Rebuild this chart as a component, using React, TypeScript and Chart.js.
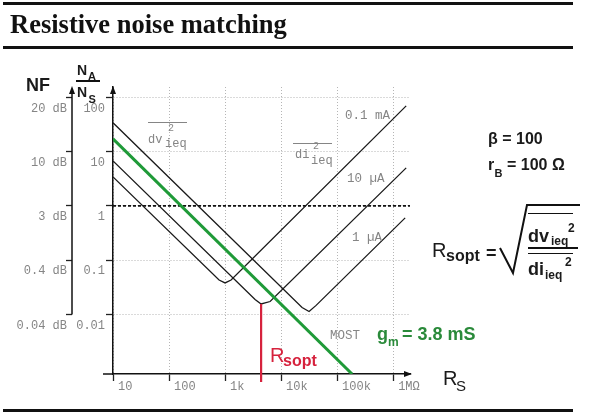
import React, { useEffect, useRef } from "react";
import { Chart, registerables } from "chart.js";

Chart.register(...registerables);

// ---------- data ----------
const X_TICKS = [10, 100, 1000, 1e4, 1e5, 1e6];
const X_TICK_LABELS = ["10", "100", "1k", "10k", "100k", "1MΩ"];
const Y_TICKS = [0.01, 0.1, 1, 10, 100];
const Y_TICK_LABELS = ["0.01", "0.1", "1", "10", "100"];
const NF_TICK_LABELS = ["0.04 dB", "0.4 dB", "3 dB", "10 dB", "20 dB"];
const X_MIN = 10;
const X_MAX = 2e6;
const Y_MIN = 0.0008;
const Y_MAX = 155;

// bipolar, Ic = 0.1 mA
const rs01mA = [10, 782, 1000, 1280, 1.71e6];
const nr01mA = [3.42, 0.0431, 0.0381, 0.0431, 69.7];
// bipolar, Ic = 10 µA
const rs10uA = [10, 3436, 4400, 6368, 1.71e6];
const nr10uA = [6.75, 0.0189, 0.0156, 0.0173, 5.01];
// bipolar, Ic = 1 µA
const rs1uA = [10, 23700, 31600, 42200, 1.64e6];
const nr1uA = [33.9, 0.0134, 0.01135, 0.0147, 0.601];
// MOST, gm = 3.8 mS
const rsMost = [10, 1.85e5];
const nrMost = [17.2, 0.0008];
// optimum source resistance marker
const RS_OPT = 4400;
const NR_OPT_BOTTOM = 0.00057;
// 3 dB reference line
const NR_3DB = 1;

// ---------- styles ----------
const SANS = '"Liberation Sans", Arial, sans-serif';
const SERIF = '"Liberation Serif", "Times New Roman", serif';
const MONO = '"Liberation Mono", "Courier New", monospace';
const BLACK = "#1a1a1a";
const GREEN = "#1f9a38";
const GREEN_TXT = "#2a8a3a";
const RED = "#d6223d";
const GRAY = "#858585";
const GRID = "#b5b5b5";

const ASC: Record<string, number> = { [SANS]: 0.8465, [SERIF]: 0.8375, [MONO]: 0.7665 };

function T(props: {
  x: number;
  base: number;
  size: number;
  bold?: boolean;
  fam?: string;
  color?: string;
  children: React.ReactNode;
}) {
  const fam = props.fam || SANS;
  return (
    <span
      style={{
        position: "absolute",
        left: props.x,
        top: props.base - ASC[fam] * props.size,
        fontFamily: fam,
        fontSize: props.size,
        fontWeight: props.bold ? 700 : 400,
        color: props.color || BLACK,
        lineHeight: 1,
        whiteSpace: "pre",
      }}
    >
      {props.children}
    </span>
  );
}

function Bar(props: { x: number; y: number; w: number; h: number; color?: string }) {
  return (
    <div
      style={{
        position: "absolute",
        left: props.x,
        top: props.y,
        width: props.w,
        height: props.h,
        background: props.color || "#111",
      }}
    />
  );
}

const zip = (xs: number[], ys: number[]) => xs.map((x, i) => ({ x, y: ys[i] }));

const axisDecor = {
  id: "axisDecor",
  afterDraw(chart: any) {
    const { ctx, chartArea, scales } = chart;
    const { left, right, top, bottom } = chartArea;
    const y2 = scales.y2;
    ctx.save();
    ctx.strokeStyle = "#111";
    ctx.fillStyle = "#111";
    ctx.lineWidth = 1.5;
    // NF axis line
    const nx = y2.right;
    ctx.beginPath();
    ctx.moveTo(nx, y2.getPixelForValue(Y_TICKS[0]));
    ctx.lineTo(nx, top + 4);
    ctx.stroke();
    // x axis extension to the left
    ctx.beginPath();
    ctx.moveTo(left - 10, bottom);
    ctx.lineTo(left, bottom);
    ctx.stroke();
    const up = (x: number, y: number) => {
      ctx.beginPath();
      ctx.moveTo(x, y - 1);
      ctx.lineTo(x - 3, y + 7);
      ctx.lineTo(x + 3, y + 7);
      ctx.closePath();
      ctx.fill();
    };
    up(nx, top);
    up(left, top);
    // x arrow
    ctx.beginPath();
    ctx.moveTo(right + 2, bottom);
    ctx.lineTo(right - 6, bottom - 3);
    ctx.lineTo(right - 6, bottom + 3);
    ctx.closePath();
    ctx.fill();
    ctx.restore();
  },
};

export default function App() {
  const ref = useRef<HTMLCanvasElement>(null);

  useEffect(() => {
    if (!ref.current) return;
    const lineDs = (label: string, data: any[], color: string, width: number, extra: any = {}) => ({
      label,
      data,
      borderColor: color,
      backgroundColor: color,
      borderWidth: width,
      pointRadius: 0,
      tension: 0,
      fill: false,
      ...extra,
    });
    const tickFont = { family: MONO, size: 12 };
    const chart = new Chart(ref.current, {
      type: "line",
      data: {
        datasets: [
          lineDs("Rsopt", [{ x: RS_OPT, y: nr10uA[2] }, { x: RS_OPT, y: NR_OPT_BOTTOM }], RED, 2.2, { clip: false }),
          lineDs("MOST", zip(rsMost, nrMost), GREEN, 3),
          lineDs("0.1 mA", zip(rs01mA, nr01mA), BLACK, 1.3),
          lineDs("10 µA", zip(rs10uA, nr10uA), BLACK, 1.3),
          lineDs("1 µA", zip(rs1uA, nr1uA), BLACK, 1.3),
          lineDs("3 dB", [{ x: X_MIN, y: NR_3DB }, { x: X_MAX, y: NR_3DB }], "#111", 1.6, { borderDash: [3, 2] }),
        ],
      },
      options: {
        responsive: false,
        animation: false,
        devicePixelRatio: 1,
        layout: { padding: { left: 8, top: 87, right: 180, bottom: 19 } },
        plugins: { legend: { display: false }, tooltip: { enabled: false }, title: { display: false } },
        scales: {
          x: {
            type: "logarithmic",
            position: "bottom",
            min: X_MIN,
            max: X_MAX,
            bounds: "data",
            afterBuildTicks: (s: any) => {
              s.ticks = X_TICKS.map((v) => ({ value: v }));
            },
            afterFit: (s: any) => {
              s.height = 20;
            },
            ticks: {
              autoSkip: false,
              maxRotation: 0,
              minRotation: 0,
              align: "start",
              labelOffset: 5,
              padding: -1,
              color: GRAY,
              font: tickFont,
              callback: (_v: any, i: number) => X_TICK_LABELS[i],
            },
            grid: { color: GRID, lineWidth: 1, tickLength: 7, tickColor: "#222", tickWidth: 1.3, tickBorderDash: [] },
            border: { display: true, color: "#111", width: 1.5, dash: [1, 2] },
          },
          y: {
            type: "logarithmic",
            position: "left",
            weight: 0,
            min: Y_MIN,
            max: Y_MAX,
            bounds: "data",
            afterBuildTicks: (s: any) => {
              s.ticks = Y_TICKS.map((v) => ({ value: v }));
            },
            afterFit: (s: any) => {
              s.width = 41;
            },
            ticks: {
              autoSkip: false,
              labelOffset: 11,
              padding: 1,
              color: GRAY,
              font: tickFont,
              callback: (_v: any, i: number) => Y_TICK_LABELS[i],
            },
            grid: { color: GRID, lineWidth: 1, tickLength: 7, tickColor: "#222", tickWidth: 1.3, tickBorderDash: [] },
            border: { display: true, color: "#111", width: 1.5, dash: [1, 2] },
          },
          y2: {
            type: "logarithmic",
            position: "left",
            weight: 1,
            min: Y_MIN,
            max: Y_MAX,
            bounds: "data",
            afterBuildTicks: (s: any) => {
              s.ticks = Y_TICKS.map((v) => ({ value: v }));
            },
            afterFit: (s: any) => {
              s.width = 64;
            },
            ticks: {
              autoSkip: false,
              labelOffset: 11,
              padding: -1,
              color: GRAY,
              font: tickFont,
              callback: (_v: any, i: number) => NF_TICK_LABELS[i],
            },
            grid: { drawOnChartArea: false, tickLength: 6, tickColor: "#222", tickWidth: 1.3 },
            border: { display: false },
          },
        },
      },
      plugins: [axisDecor],
    } as any);
    return () => chart.destroy();
  }, []);

  return (
    <div
      style={{
        position: "fixed",
        left: 0,
        top: 0,
        width: 590,
        height: 413,
        background: "#fff",
        overflow: "hidden",
      }}
    >
      <canvas ref={ref} width={590} height={413} style={{ position: "absolute", left: 0, top: 0 }} />

      {/* title bars */}
      <Bar x={3} y={2} w={570} h={3} />
      <Bar x={3} y={46} w={570} h={3} />
      <Bar x={3} y={409} w={570} h={3} />
      <T x={10} base={33} size={26.5} bold fam={SERIF} color="#111">
        Resistive noise matching
      </T>

      {/* left axis titles */}
      <T x={26} base={91} size={18} bold>NF</T>
      <T x={77} base={75} size={14} bold>N</T>
      <T x={88} base={80} size={11} bold>A</T>
      <Bar x={76} y={80} w={24} h={1.5} />
      <T x={77} base={97} size={14} bold>N</T>
      <T x={88.5} base={103} size={11} bold>S</T>

      {/* in-chart annotations */}
      <Bar x={148} y={121.5} w={39} h={1} color={GRAY} />
      <T x={148} base={143} size={12} fam={MONO} color={GRAY}>dv</T>
      <T x={168} base={132} size={10} fam={MONO} color={GRAY}>2</T>
      <T x={165} base={147} size={12} fam={MONO} color={GRAY}>ieq</T>

      <Bar x={293} y={142.5} w={39} h={1} color={GRAY} />
      <T x={295} base={158} size={12} fam={MONO} color={GRAY}>di</T>
      <T x={313} base={150} size={10} fam={MONO} color={GRAY}>2</T>
      <T x={311} base={164} size={12} fam={MONO} color={GRAY}>ieq</T>

      <T x={345} base={120} size={12.5} fam={MONO} color={GRAY}>0.1 mA</T>
      <T x={347} base={183} size={12.5} fam={MONO} color={GRAY}>10 µA</T>
      <T x={352} base={242} size={12.5} fam={MONO} color={GRAY}>1 µA</T>
      <T x={330} base={340} size={12.5} fam={MONO} color={GRAY}>MOST</T>

      <T x={377} base={340} size={18} bold color={GREEN_TXT}>g</T>
      <T x={388} base={346} size={12} bold color={GREEN_TXT}>m</T>
      <T x={402} base={340} size={18} bold color={GREEN_TXT}>= 3.8 mS</T>

      <T x={270} base={362} size={20} color={RED}>R</T>
      <T x={283} base={367} size={16} bold color={RED}>sopt</T>

      <T x={443} base={385} size={20}>R</T>
      <T x={456} base={391} size={15}>S</T>

      {/* parameters */}
      <T x={488} base={145} size={16} bold>β = 100</T>
      <T x={488} base={171} size={16} bold>r</T>
      <T x={494.5} base={177} size={11} bold>B</T>
      <T x={507} base={171} size={16} bold>= 100 Ω</T>

      {/* formula */}
      <T x={432} base={257} size={20}>R</T>
      <T x={446} base={262} size={16} bold>sopt</T>
      <T x={486} base={259.5} size={18} bold>=</T>
      <svg
        width={590}
        height={413}
        style={{ position: "absolute", left: 0, top: 0, pointerEvents: "none" }}
      >
        <polyline points="500,248 513,273 527,205 580,205" fill="none" stroke="#111" strokeWidth={2} />
      </svg>
      <Bar x={528} y={212.5} w={45} h={1.5} />
      <T x={528} base={242} size={18} bold>dv</T>
      <T x={551} base={245} size={12} bold>ieq</T>
      <T x={568} base={232} size={12} bold>2</T>
      <Bar x={528} y={247} w={50} h={2} />
      <Bar x={528} y={252.5} w={45} h={1.5} />
      <T x={528} base={275} size={18} bold>di</T>
      <T x={545} base={279} size={12} bold>ieq</T>
      <T x={565} base={266} size={12} bold>2</T>
    </div>
  );
}
